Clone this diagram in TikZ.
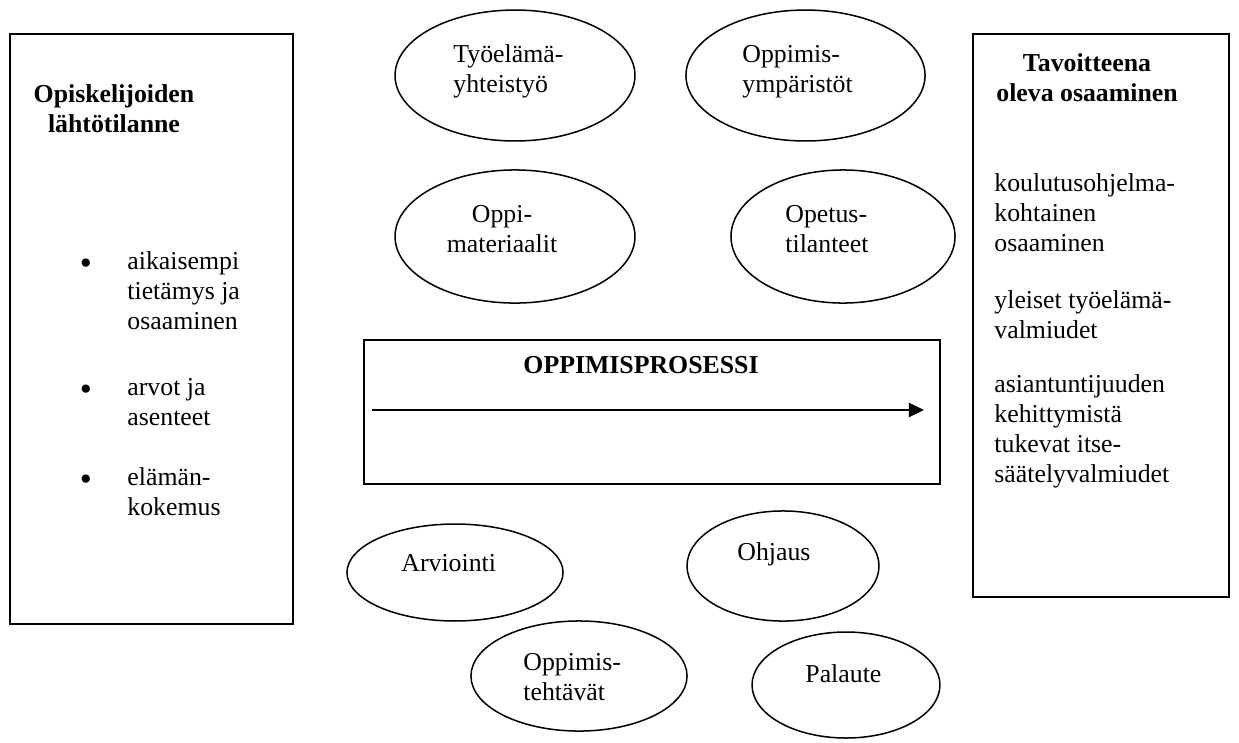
\documentclass[tikz,border=0pt]{standalone}
\usepackage{fontspec}
\setmainfont{Liberation Serif}
\usetikzlibrary{shapes.geometric,arrows.meta,fit}

\newcommand{\leftlines}[1]{\begin{tabular}[t]{@{}l@{}}#1\end{tabular}}
\newcommand{\midlines}[1]{\begin{tabular}[t]{@{}c@{}}#1\end{tabular}}

\tikzstyle{panel}=[draw, line width=0.8pt, inner sep=0pt]
\tikzstyle{bubble}=[draw, ellipse, line width=0.7pt, inner sep=0pt]
\tikzstyle{words}=[inner sep=0pt, anchor=base west, font=\fontsize{12}{14}\selectfont]
\tikzstyle{heading}=[inner sep=0pt, anchor=base, font=\fontsize{12}{14}\selectfont\bfseries]
\tikzstyle{dot}=[inner sep=0pt, anchor=base, font=\fontsize{16}{16}\selectfont]
\tikzstyle{flow}=[-{Triangle[length=7pt,width=6.5pt]}, line width=1.1pt]

\begin{document}
\begin{tikzpicture}[x=0.4651pt, y=-0.4651pt]
  \useasboundingbox (0,0) rectangle (1239,742);

  % the three frames
  \node[panel, fit={(10,34) (293,624)}] (before) {};
  \node[panel, fit={(973,34) (1229,597)}] (goal) {};
  \node[panel, fit={(364,340) (940,484)}] (process) {};

  % starting point
  \node[heading] (beforetitle) at (114,102) {\midlines{Opiskelijoiden\\lähtötilanne}};
  \foreach \i/\y/\t in {1/269/{aikaisempi\\tietämys ja\\osaaminen},
                        2/395/{arvot ja\\asenteet},
                        3/485/{elämän-\\kokemus}} {%
    \node[dot] (dot\i) at (86,\y+5) {\textbullet};
    \node[words] (item\i) at (127,\y) {\leftlines{\t}};
  }

  % target
  \node[heading] (goaltitle) at (1087,71) {\midlines{Tavoitteena\\oleva osaaminen}};
  \node[words] (goal1) at (994,191) {\leftlines{koulutusohjelma-\\kohtainen\\osaaminen}};
  \node[words] (goal2) at (994,308) {\leftlines{yleiset työelämä-\\valmiudet}};
  \node[words] (goal3) at (994,392) {\leftlines{asiantuntijuuden\\kehittymistä\\tukevat itse-\\säätelyvalmiudet}};

  % process
  \node[heading] (processtitle) at (641,373) {OPPIMISPROSESSI};
  \coordinate (flowstart) at (372,410);
  \coordinate (flowend) at (924,410);
  \draw[flow] (flowstart) -- (flowend);

  % ellipses
  \foreach \n/\x/\y/\w/\h in {tyo/515/75.5/111.6pt/60.9pt, ymp/805.5/75.5/111.2pt/60.9pt,
                              mat/515/236.5/111.6pt/61.9pt, ope/843/236.5/104.2pt/61.9pt,
                              arv/455/572.5/100.5pt/45.1pt, ohj/783/566/89.3pt/51.2pt,
                              teh/579/676/100.5pt/51.2pt, pal/846/685/87.4pt/49.3pt} {%
    \node[bubble, minimum width=\w, minimum height=\h] (\n) at (\x,\y) {};
  }
  \node[words] (tyotxt) at (453,62) {\leftlines{Työelämä-\\yhteistyö}};
  \node[words] (ymptxt) at (742,62) {\leftlines{Oppimis-\\ympäristöt}};
  \node[words, anchor=base] (mattxt) at (502,222) {\midlines{Oppi-\\materiaalit}};
  \node[words] (opetxt) at (785,222) {\leftlines{Opetus-\\tilanteet}};
  \node[words] (arvtxt) at (401,571) {Arviointi};
  \node[words] (ohjtxt) at (737,560) {Ohjaus};
  \node[words] (tehtxt) at (523,670) {\leftlines{Oppimis-\\tehtävät}};
  \node[words] (paltxt) at (805,682) {Palaute};
\end{tikzpicture}
\end{document}
